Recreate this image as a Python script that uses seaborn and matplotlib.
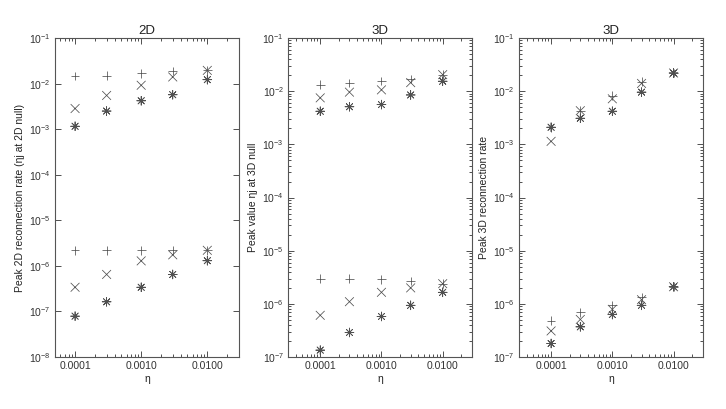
import matplotlib
matplotlib.use('Agg')
import matplotlib.pyplot as plt
import seaborn as sns
import pandas as pd
from matplotlib.ticker import LogLocator, FixedLocator, FuncFormatter, NullLocator, NullFormatter

# resistivity values (x axis, shared by all panels)
eta = [1e-4, 3e-4, 1e-3, 3e-3, 1e-2]

# panel 1: 2D, upper group and lower group
p1_plus_hi = [1.47e-2, 1.5e-2, 1.68e-2, 1.9e-2, 1.95e-2]
p1_cross_hi = [2.84e-3, 5.5e-3, 9.2e-3, 1.4e-2, 1.95e-2]
p1_star_hi = [1.16e-3, 2.5e-3, 4.2e-3, 5.7e-3, 1.22e-2]
p1_plus_lo = [2.2e-6, 2.2e-6, 2.2e-6, 2.2e-6, 2.2e-6]
p1_cross_lo = [3.4e-7, 6.5e-7, 1.29e-6, 1.75e-6, 2.2e-6]
p1_star_lo = [7.9e-8, 1.63e-7, 3.4e-7, 6.5e-7, 1.3e-6]

# panel 2: 3D, peak eta*j
p2_plus_hi = [1.33e-2, 1.43e-2, 1.56e-2, 1.7e-2, 2.05e-2]
p2_cross_hi = [7.5e-3, 9.6e-3, 1.06e-2, 1.45e-2, 2.05e-2]
p2_star_hi = [4.2e-3, 5.1e-3, 5.6e-3, 8.5e-3, 1.54e-2]
p2_plus_lo = [3.0e-6, 3.0e-6, 2.9e-6, 2.7e-6, 2.4e-6]
p2_cross_lo = [6.1e-7, 1.1e-6, 1.65e-6, 2.0e-6, 2.4e-6]
p2_star_lo = [1.35e-7, 2.9e-7, 5.8e-7, 9.4e-7, 1.65e-6]

# panel 3: 3D, reconnection rate
p3_plus_hi = [2.1e-3, 4.3e-3, 8.3e-3, 1.5e-2, 2.2e-2]
p3_cross_hi = [1.14e-3, 4.3e-3, 7.2e-3, 1.4e-2, 2.2e-2]
p3_star_hi = [2.1e-3, 3.1e-3, 4.2e-3, 9.6e-3, 2.2e-2]
p3_plus_lo = [4.8e-7, 7.0e-7, 9.4e-7, 1.33e-6, 2.1e-6]
p3_cross_lo = [3.1e-7, 5.1e-7, 7.9e-7, 1.2e-6, 2.1e-6]
p3_star_lo = [1.8e-7, 3.7e-7, 6.3e-7, 9.4e-7, 2.1e-6]

titles = ['2D', '3D', '3D']
ylabels = ['Peak 2D reconnection rate (ηj at 2D null)',
           'Peak value ηj at 3D null',
           'Peak 3D reconnection rate']
ylims = [(1e-8, 1e-1), (1e-7, 1e-1), (1e-7, 1e-1)]
xlims = [(5e-5, 3e-2), (3e-5, 3e-2), (3e-5, 3e-2)]

sns.set_theme(style='ticks')
plt.rcParams['font.family'] = ['Liberation Sans', 'DejaVu Sans']
plt.rcParams['mathtext.fontset'] = 'custom'
plt.rcParams['mathtext.rm'] = 'Liberation Sans'
plt.rcParams['mathtext.it'] = 'Liberation Sans:italic'
plt.rcParams['text.color'] = '#222222'
plt.rcParams['axes.labelcolor'] = '#222222'


def make_frame(plus_hi, cross_hi, star_hi, plus_lo, cross_lo, star_lo):
    rows = []
    for name, vals in [('plus', plus_hi), ('cross', cross_hi), ('star', star_hi),
                       ('plus', plus_lo), ('cross', cross_lo), ('star', star_lo)]:
        for e, v in zip(eta, vals):
            rows.append({'eta': e, 'value': v, 'marker': name})
    return pd.DataFrame(rows)


frames = [
    make_frame(p1_plus_hi, p1_cross_hi, p1_star_hi, p1_plus_lo, p1_cross_lo, p1_star_lo),
    make_frame(p2_plus_hi, p2_cross_hi, p2_star_hi, p2_plus_lo, p2_cross_lo, p2_star_lo),
    make_frame(p3_plus_hi, p3_cross_hi, p3_star_hi, p3_plus_lo, p3_cross_lo, p3_star_lo),
]

marker_map = {'plus': '+', 'cross': 'x', 'star': (8, 2, 0)}

fig = plt.figure(figsize=(7.26, 4.09), dpi=100)
lefts = [0.076, 0.397, 0.715]
for i, df in enumerate(frames):
    ax = fig.add_axes([lefts[i], 0.127, 0.253, 0.78])
    sns.scatterplot(data=df, x='eta', y='value', style='marker', markers=marker_map,
                    color='#505050', s=40, linewidth=0.55, legend=False, ax=ax)
    ax.set_xscale('log')
    ax.set_yscale('log')
    ax.set_xlim(*xlims[i])
    ax.set_ylim(*ylims[i])
    ax.set_title(titles[i], fontsize=9.5, pad=3)
    ax.set_xlabel('η', fontsize=7.5, labelpad=2)
    ax.set_ylabel(ylabels[i], fontsize=7.5, labelpad=3)
    ax.xaxis.set_major_locator(FixedLocator([1e-4, 1e-3, 1e-2]))
    ax.xaxis.set_major_formatter(FuncFormatter(lambda v, p: '%.4f' % v))
    ax.xaxis.set_minor_locator(LogLocator(base=10, subs=range(2, 10)))
    ax.xaxis.set_minor_formatter(NullFormatter())
    ax.yaxis.set_major_locator(LogLocator(base=10, numticks=12))
    if i == 0:
        ax.yaxis.set_minor_locator(NullLocator())
    else:
        ax.yaxis.set_minor_locator(LogLocator(base=10, subs=range(2, 10), numticks=12))
    ax.yaxis.set_minor_formatter(NullFormatter())
    ax.tick_params(which='both', direction='in', top=True, right=True,
                   labelsize=7.5, colors='#333333', width=0.6)
    ax.tick_params(which='major', length=4, pad=3)
    ax.tick_params(which='minor', length=2)
    for sp in ax.spines.values():
        sp.set_color('#555555')
        sp.set_linewidth(0.8)

plt.savefig('out.png', dpi=100)
